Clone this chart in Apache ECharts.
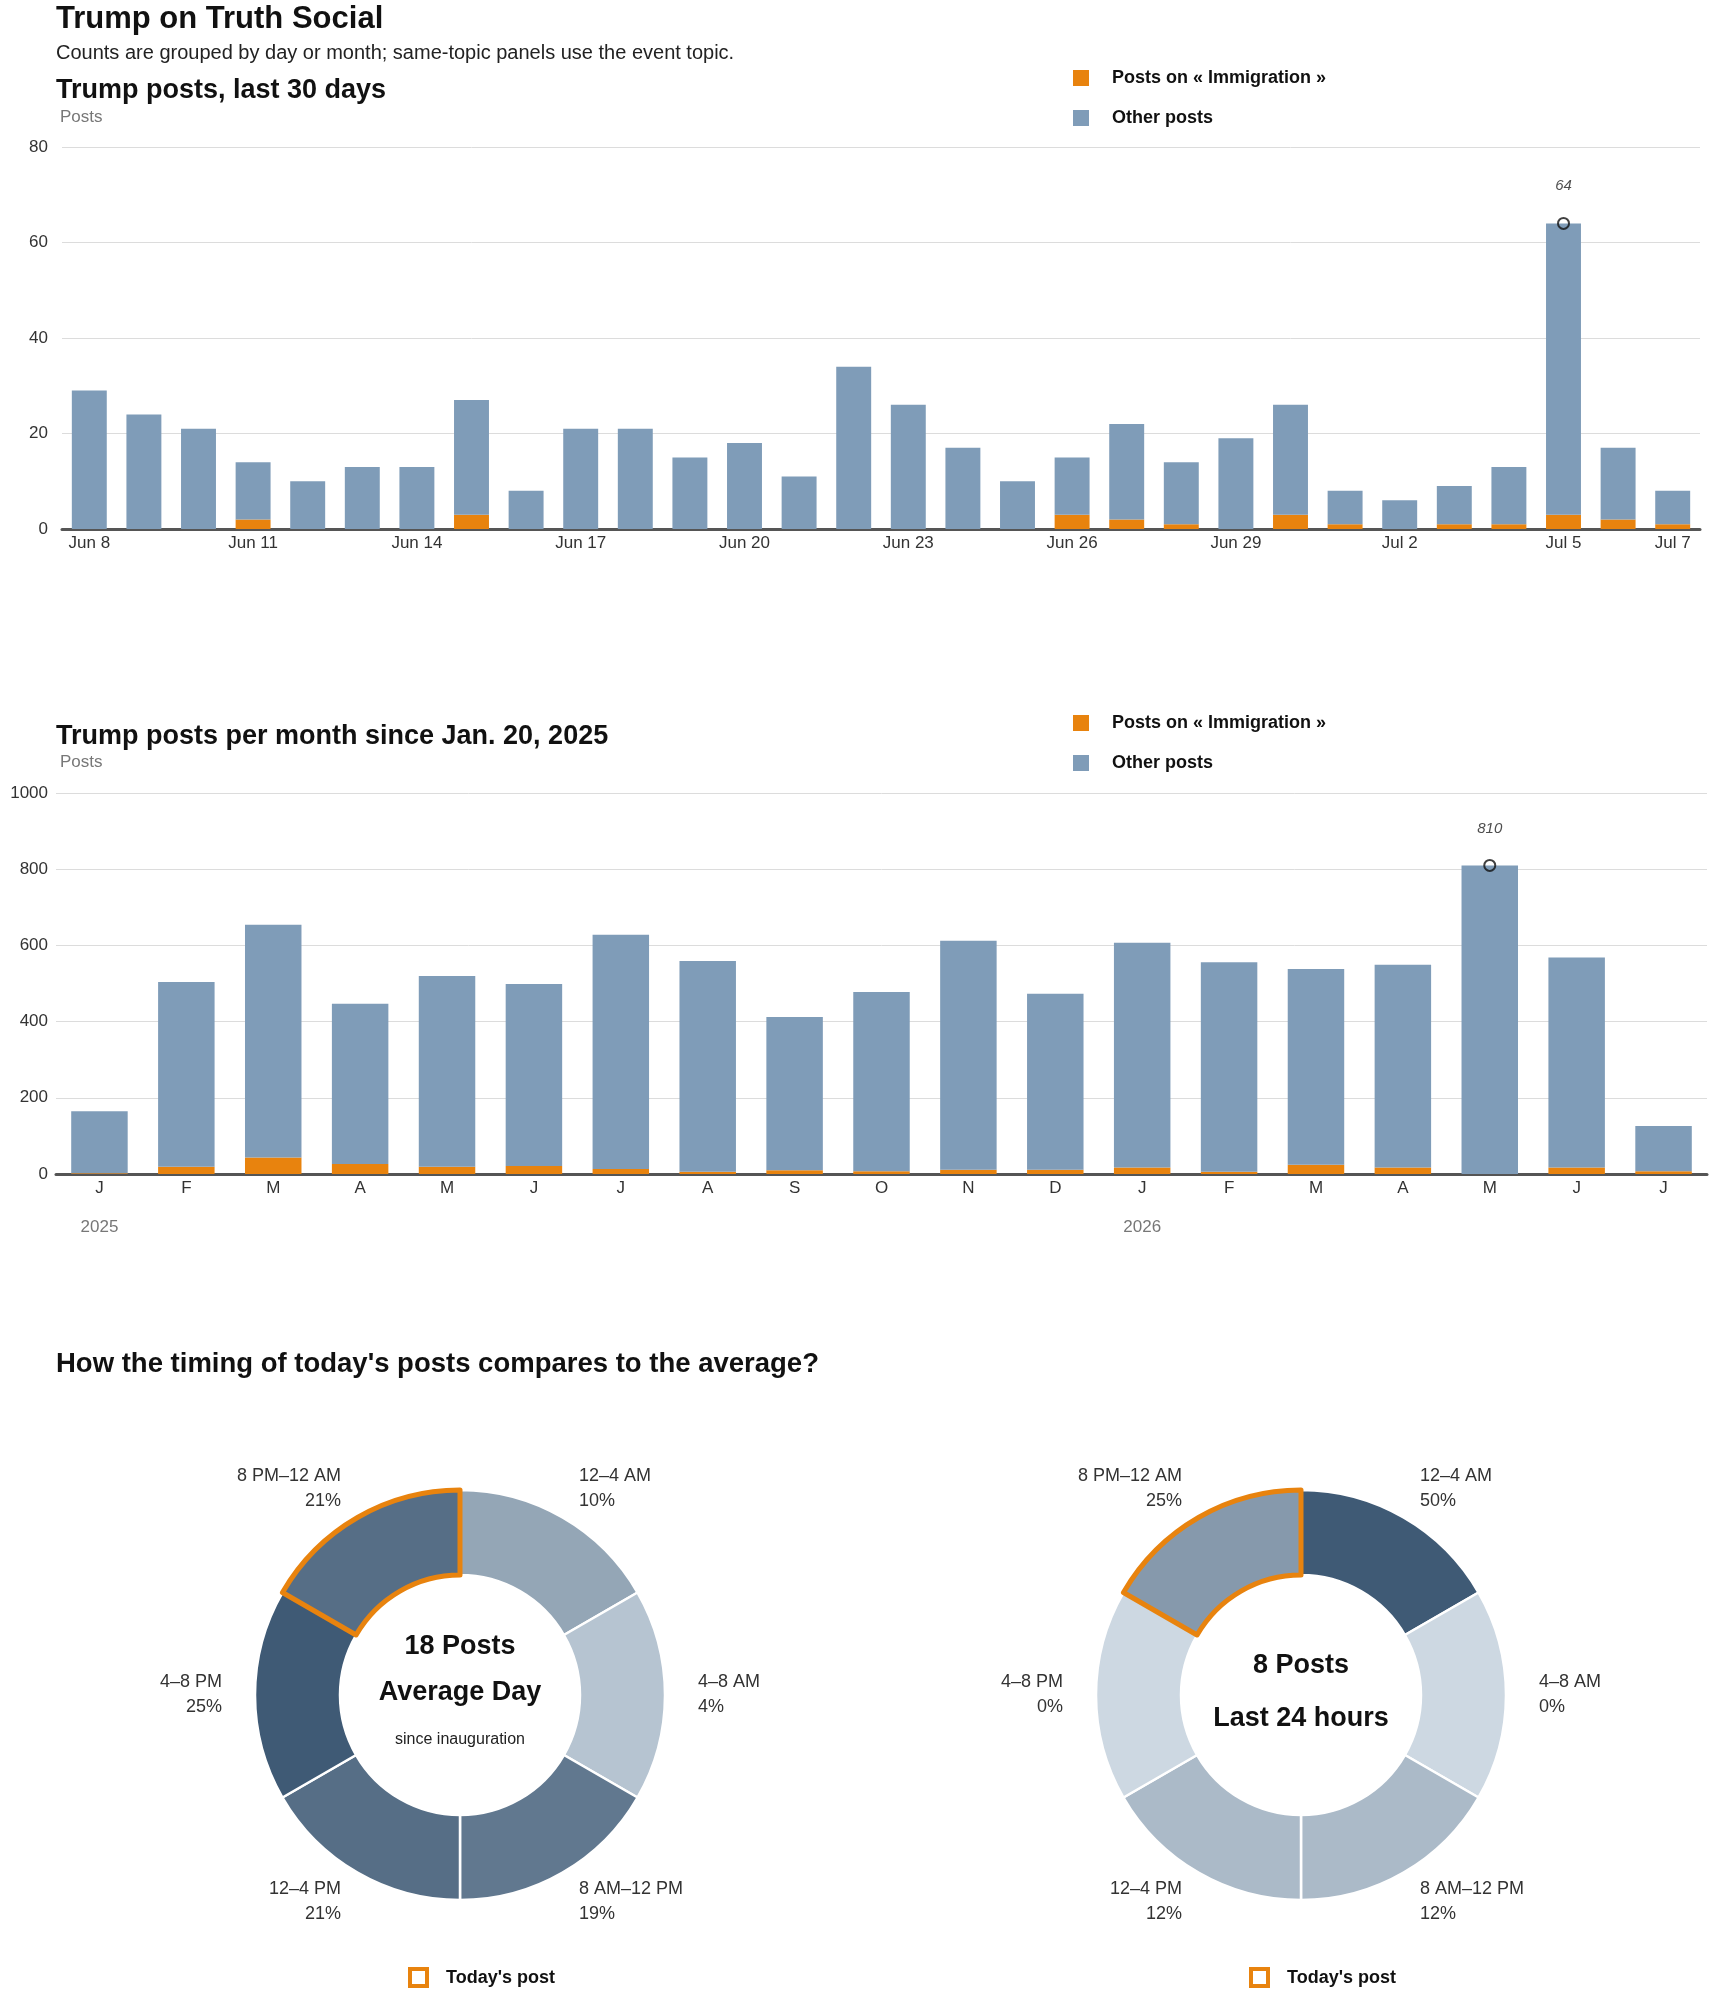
<!DOCTYPE html>
<html>
<head>
<meta charset="utf-8">
<script src="https://cdn.jsdelivr.net/npm/echarts@6/dist/echarts.min.js"></script>
<style>
  html, body { margin: 0; padding: 0; background: #fff; }
  #chart { width: 1710px; height: 1993px; }
</style>
</head>
<body>
<div id="chart"></div>
<script>
(function () {
  'use strict';

  // last 30 days, one bar per day
  const DAYS = ['Jun 8', 'Jun 9', 'Jun 10', 'Jun 11', 'Jun 12', 'Jun 13', 'Jun 14', 'Jun 15', 'Jun 16', 'Jun 17',
    'Jun 18', 'Jun 19', 'Jun 20', 'Jun 21', 'Jun 22', 'Jun 23', 'Jun 24', 'Jun 25', 'Jun 26', 'Jun 27',
    'Jun 28', 'Jun 29', 'Jun 30', 'Jul 1', 'Jul 2', 'Jul 3', 'Jul 4', 'Jul 5', 'Jul 6', 'Jul 7'];
  const DAY_IMMIGRATION = [0, 0, 0, 2, 0, 0, 0, 3, 0, 0, 0, 0, 0, 0, 0, 0, 0, 0, 3, 2, 1, 0, 3, 1, 0, 1, 1, 3, 2, 1];
  const DAY_OTHER = [29, 24, 21, 12, 10, 13, 13, 24, 8, 21, 21, 15, 18, 11, 34, 26, 17, 10, 12, 20, 13, 19, 23, 7, 6, 8, 12, 61, 15, 7];
  const DAY_PEAK = ['Jul 5', 64];

  // per month since inauguration
  const MONTH_KEYS = ['2025-01', '2025-02', '2025-03', '2025-04', '2025-05', '2025-06', '2025-07', '2025-08', '2025-09',
    '2025-10', '2025-11', '2025-12', '2026-01', '2026-02', '2026-03', '2026-04', '2026-05', '2026-06', '2026-07'];
  const MONTH_TICKS = ['J', 'F', 'M', 'A', 'M', 'J', 'J', 'A', 'S', 'O', 'N', 'D', 'J', 'F', 'M', 'A', 'M', 'J', 'J'];
  const MONTH_YEARS = ['2025', '', '', '', '', '', '', '', '', '', '', '', '2026', '', '', '', '', '', ''];
  const MONTH_IMMIGRATION = [2, 19, 43, 26, 19, 21, 13, 6, 10, 7, 11, 11, 17, 6, 24, 17, 0, 17, 7];
  const MONTH_OTHER = [163, 485, 611, 421, 501, 478, 615, 553, 402, 471, 601, 462, 590, 550, 514, 532, 810, 551, 119];
  const MONTH_PEAK = ['2026-05', 810];

  // time of day, six 4-hour slots
  const SLOTS = ['12–4 AM', '4–8 AM', '8 AM–12 PM', '12–4 PM', '4–8 PM', '8 PM–12 AM'];
  const SLOT_HOURS = [4, 4, 4, 4, 4, 4];
  const AVG_SHARE = [10, 4, 19, 21, 25, 21];
  const LAST24_SHARE = [50, 0, 12, 12, 0, 25];
  const TODAY_SLOT = '8 PM–12 AM';

  const IMMIG_NAME = 'Posts on « Immigration »';
  const OTHER_NAME = 'Other posts';
  const ORANGE = '#e8830e';
  const BLUE = '#7f9cb8';
  const FONT = "'Liberation Sans', Arial, sans-serif";

  function txt(x, y, str, size, weight, color, align) {
    return {
      type: 'text', x: x, y: y, silent: true,
      style: {
        text: str, font: weight + ' ' + size + 'px ' + FONT, fill: color,
        align: align || 'left', textAlign: align || 'left',
        verticalAlign: 'middle', textVerticalAlign: 'middle'
      }
    };
  }

  function barSeries(name, data, color, axis, width) {
    return {
      type: 'bar', name: name, data: data, stack: 'posts' + axis,
      xAxisIndex: axis, yAxisIndex: axis, barWidth: width,
      itemStyle: { color: color }, silent: true
    };
  }

  function peakSeries(point, axis, dist) {
    return {
      type: 'scatter', data: [point], xAxisIndex: axis, yAxisIndex: axis, z: 10,
      symbol: 'circle', symbolSize: 11, silent: true,
      itemStyle: { color: 'rgba(255,255,255,0)', borderColor: '#111', borderWidth: 2 },
      label: {
        show: true, position: 'top', distance: dist,
        formatter: function (p) { return String(p.value[1]); },
        fontFamily: FONT, fontStyle: 'italic', fontSize: 15, color: '#222'
      }
    };
  }

  function legendAt(top) {
    return {
      data: [IMMIG_NAME, OTHER_NAME], left: 1068, top: top, orient: 'vertical',
      icon: 'rect', itemWidth: 16, itemHeight: 16, itemGap: 22, selectedMode: false,
      textStyle: { fontFamily: FONT, fontSize: 18, fontWeight: 'bold', color: '#111', padding: [0, 0, 0, 18] }
    };
  }

  function pieSeries(datasetIndex, cx) {
    return {
      type: 'pie', datasetIndex: datasetIndex,
      encode: { itemName: 'slot', value: 'hours' },
      center: [cx, 1695], radius: [120, 205], startAngle: 90, clockwise: true,
      avoidLabelOverlap: false, silent: true,
      itemStyle: { borderColor: '#fff', borderWidth: 2.5 },
      label: {
        show: true, position: 'outside', distanceToLabelLine: 0, padding: [5, 0, 0, 0],
        formatter: function (p) { return p.name + '\n' + p.value[2] + '%'; },
        fontFamily: FONT, fontSize: 18, lineHeight: 25, color: '#333'
      },
      labelLine: { show: false, length: 33, length2: 0 },
      emphasis: { disabled: true }
    };
  }

  function todaySeries(cx) {
    return {
      type: 'pie', center: [cx, 1695], radius: [120, 205], startAngle: 90, clockwise: true,
      silent: true, z: 5, label: { show: false }, labelLine: { show: false },
      emphasis: { disabled: true },
      data: SLOTS.map(function (s, i) {
        const today = s === TODAY_SLOT;
        return {
          name: s, value: SLOT_HOURS[i],
          itemStyle: {
            color: 'rgba(0,0,0,0)',
            borderColor: today ? ORANGE : 'rgba(0,0,0,0)',
            borderWidth: today ? 5 : 0
          }
        };
      })
    };
  }

  function slotRows(shares) {
    return SLOTS.map(function (s, i) { return [s, SLOT_HOURS[i], shares[i]]; });
  }

  const axisLabelStyle = { fontFamily: FONT, fontSize: 17, color: '#333' };

  const option = {
    animation: false,
    backgroundColor: '#fff',
    textStyle: { fontFamily: FONT },
    grid: [
      { left: 62, right: 10, top: 147, height: 382 },
      { left: 56, right: 3, top: 793, height: 381 }
    ],
    xAxis: [
      {
        type: 'category', gridIndex: 0, data: DAYS,
        axisLine: { lineStyle: { color: '#555', width: 3 } },
        axisTick: { show: false },
        axisLabel: Object.assign({
          margin: 6,
          interval: function (index) { return index % 3 === 0 || index === DAYS.length - 1; }
        }, axisLabelStyle)
      },
      {
        type: 'category', gridIndex: 1, data: MONTH_KEYS,
        axisLine: { lineStyle: { color: '#555', width: 3 } },
        axisTick: { show: false },
        axisLabel: {
          margin: 2, interval: 0,
          formatter: function (v, i) {
            return MONTH_YEARS[i] ? '{m|' + MONTH_TICKS[i] + '}\n{y|' + MONTH_YEARS[i] + '}' : '{m|' + MONTH_TICKS[i] + '}';
          },
          rich: {
            m: { fontFamily: FONT, fontSize: 17, color: '#333', lineHeight: 24 },
            y: { fontFamily: FONT, fontSize: 17, color: '#777', lineHeight: 54 }
          }
        }
      }
    ],
    yAxis: [
      {
        type: 'value', gridIndex: 0, min: 0, max: 80, interval: 20,
        axisLine: { show: false }, axisTick: { show: false },
        splitLine: { lineStyle: { color: '#dcdcdc', width: 1 } },
        axisLabel: Object.assign({ margin: 14 }, axisLabelStyle)
      },
      {
        type: 'value', gridIndex: 1, min: 0, max: 1000, interval: 200,
        axisLine: { show: false }, axisTick: { show: false },
        splitLine: { lineStyle: { color: '#dcdcdc', width: 1 } },
        axisLabel: Object.assign({ margin: 8, formatter: function (v) { return String(v); } }, axisLabelStyle)
      }
    ],
    legend: [legendAt(64), legendAt(709)],
    dataset: [
      { dimensions: ['slot', 'hours', 'share'], source: slotRows(AVG_SHARE) },
      { dimensions: ['slot', 'hours', 'share'], source: slotRows(LAST24_SHARE) }
    ],
    visualMap: [
      {
        type: 'continuous', show: false, seriesIndex: 6, dimension: 2,
        min: 0, max: Math.max.apply(null, AVG_SHARE),
        inRange: { color: ['#cdd8e2', '#3f5a75'] }
      },
      {
        type: 'continuous', show: false, seriesIndex: 7, dimension: 2,
        min: 0, max: Math.max.apply(null, LAST24_SHARE),
        inRange: { color: ['#cdd8e2', '#3f5a75'] }
      }
    ],
    series: [
      barSeries(IMMIG_NAME, DAY_IMMIGRATION, ORANGE, 0, '64%'),
      barSeries(OTHER_NAME, DAY_OTHER, BLUE, 0, '64%'),
      peakSeries(DAY_PEAK, 0, 24),
      barSeries(IMMIG_NAME, MONTH_IMMIGRATION, ORANGE, 1, '65%'),
      barSeries(OTHER_NAME, MONTH_OTHER, BLUE, 1, '65%'),
      peakSeries(MONTH_PEAK, 1, 23),
      pieSeries(0, 460),
      pieSeries(1, 1301),
      todaySeries(460),
      todaySeries(1301)
    ],
    graphic: [
      txt(56, 19, 'Trump on Truth Social', 31, 'bold', '#111'),
      txt(56, 53, 'Counts are grouped by day or month; same-topic panels use the event topic.', 20, 'normal', '#222'),
      txt(56, 90.5, 'Trump posts, last 30 days', 27, 'bold', '#111'),
      txt(60, 117, 'Posts', 17, 'normal', '#777'),
      txt(56, 736.5, 'Trump posts per month since Jan. 20, 2025', 27, 'bold', '#111'),
      txt(60, 762, 'Posts', 17, 'normal', '#777'),
      txt(56, 1364, 'How the timing of today\'s posts compares to the average?', 27.5, 'bold', '#111'),
      txt(460, 1647, '18 Posts', 27, 'bold', '#111', 'center'),
      txt(460, 1693, 'Average Day', 27, 'bold', '#111', 'center'),
      txt(460, 1740, 'since inauguration', 16, 'normal', '#222', 'center'),
      txt(1301, 1666, '8 Posts', 27, 'bold', '#111', 'center'),
      txt(1301, 1719, 'Last 24 hours', 27, 'bold', '#111', 'center'),
      { type: 'rect', silent: true, shape: { x: 410, y: 1969, width: 17, height: 17 },
        style: { fill: '#fff', stroke: ORANGE, lineWidth: 4 } },
      txt(446, 1978, 'Today\'s post', 18, 'bold', '#111'),
      { type: 'rect', silent: true, shape: { x: 1251, y: 1969, width: 17, height: 17 },
        style: { fill: '#fff', stroke: ORANGE, lineWidth: 4 } },
      txt(1287, 1978, 'Today\'s post', 18, 'bold', '#111')
    ]
  };

  const chart = echarts.init(document.getElementById('chart'), null, { renderer: 'canvas' });
  chart.setOption(option);
})();
</script>
</body>
</html>
